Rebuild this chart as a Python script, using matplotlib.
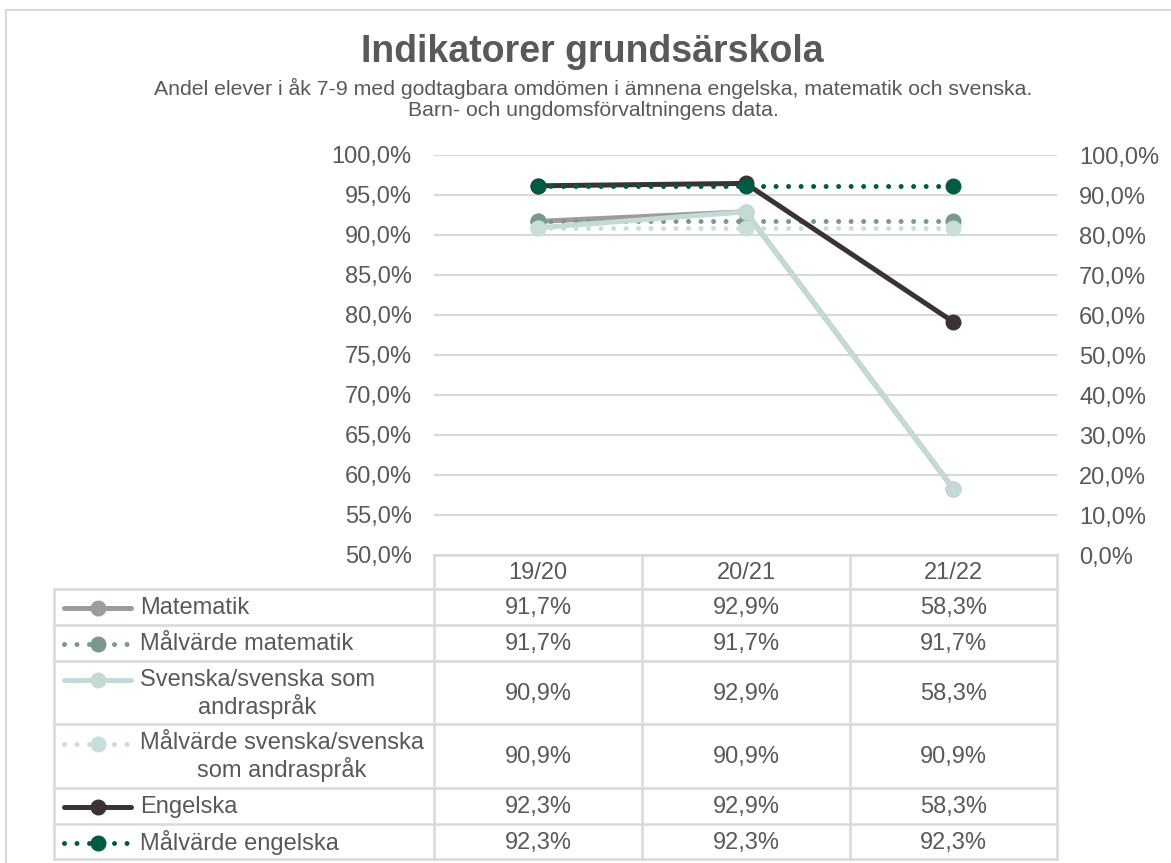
import numpy as np
import matplotlib.pyplot as plt

plt.rcParams['font.family'] = ['Liberation Sans', 'DejaVu Sans']

# data
categories = ['19/20', '20/21', '21/22']
matematik = [91.7, 92.9, 58.3]
mal_matematik = [91.7, 91.7, 91.7]
svenska = [90.9, 92.9, 58.3]
mal_svenska = [90.9, 90.9, 90.9]
engelska = [92.3, 92.9, 58.3]
mal_engelska = [92.3, 92.3, 92.3]

labels = ['Matematik', 'Målvärde matematik', 'Svenska/svenska som\nandraspråk',
          'Målvärde svenska/svenska\nsom andraspråk', 'Engelska', 'Målvärde engelska']
values = [matematik, mal_matematik, svenska, mal_svenska, engelska, mal_engelska]
colors = ['#A09B9B', '#7A988C', '#C3DAD7', '#C8DEDA', '#3B3331', '#005B45']
dotted = [False, True, False, True, False, True]
secondary = [False, False, False, False, True, True]

TXT = '#595959'
GRID = '#D9D9D9'
W, H = 1171, 863

fig = plt.figure(figsize=(W / 100, H / 100), dpi=100)


def px_axes(x0, y0, x1, y1):
    return fig.add_axes([x0 / W, 1 - y1 / H, (x1 - x0) / W, (y1 - y0) / H])


def pct(v):
    return f"{v:.1f}%".replace('.', ',')


DOT = (0, (0.001, 2.5))
LW = 3.6
MS = 10.5

ax = px_axes(434, 155, 1057, 555)
ax2 = ax.twinx()
x = np.arange(len(categories))
for vals, col, dot, sec in zip(values, colors, dotted, secondary):
    a = ax2 if sec else ax
    a.plot(x, vals, color=col, lw=LW, ls=DOT if dot else '-',
           dash_capstyle='round', solid_capstyle='round',
           marker='o', ms=MS, mec=col, mfc=col, clip_on=False)

ax.set_xlim(-0.5, len(categories) - 0.5)
ax.set_ylim(50, 100)
ax2.set_ylim(0, 100)
lt = np.arange(50, 101, 5)
rt = np.arange(0, 101, 10)
ax.set_yticks(lt, [pct(v) for v in lt])
ax2.set_yticks(rt, [pct(v) for v in rt])
ax.set_xticks([])
for a in (ax, ax2):
    a.tick_params(axis='y', length=0, labelsize=17, labelcolor=TXT, pad=16)
    for s in a.spines.values():
        s.set_visible(False)
ax.yaxis.grid(True, color=GRID, lw=1.5)
ax.set_axisbelow(True)

# overlay for title, table, border
ov = fig.add_axes([0, 0, 1, 1])
ov.set_xlim(0, W)
ov.set_ylim(H, 0)
ov.axis('off')

ov.plot([6, W], [10, 10], color=GRID, lw=1.5)
ov.plot([6, 6], [10, H], color=GRID, lw=1.5)

ov.text(592, 52, 'Indikatorer grundsärskola', ha='center', va='center',
        fontsize=27, fontweight='bold', color=TXT)
ov.text(593, 99, 'Andel elever i åk 7-9 med godtagbara omdömen i ämnena engelska, '
        'matematik och svenska.\nBarn- och ungdomsförvaltningens data.',
        ha='center', va='center', fontsize=15.3, color=TXT, linespacing=1.15)

# table
col_x = [434, 642, 850, 1057]
row_y = [589, 625, 661, 724, 788, 824, 859]
tx0 = 54
lw_t = 1.8
# header
ov.plot([col_x[0], col_x[-1]], [555, 555], color=GRID, lw=lw_t)
for cx in col_x:
    ov.plot([cx, cx], [555, row_y[-1]], color=GRID, lw=lw_t)
for ry in row_y:
    ov.plot([tx0, col_x[-1]], [ry, ry], color=GRID, lw=lw_t)
ov.plot([tx0, tx0], [row_y[0], row_y[-1]], color=GRID, lw=lw_t)
for i, c in enumerate(categories):
    ov.text((col_x[i] + col_x[i + 1]) / 2, 573, c, ha='center', va='center',
            fontsize=17, color=TXT)

LH = 27
for r, (lab, vals, col, dot) in enumerate(zip(labels, values, colors, dotted)):
    cy = (row_y[r] + row_y[r + 1]) / 2 + 1
    nl = lab.count('\n') + 1
    ky = cy - (nl - 1) * LH / 2
    ov.plot([64, 131], [ky, ky], color=col, lw=LW, ls=DOT if dot else '-',
            dash_capstyle='round', solid_capstyle='round')
    ov.plot([98], [ky], marker='o', ms=MS, color=col)
    ov.text(140, cy, lab, ha='left', va='center', multialignment='center',
            fontsize=17, color=TXT, linespacing=1.15)
    for i, v in enumerate(vals):
        ov.text((col_x[i] + col_x[i + 1]) / 2, cy, pct(v), ha='center',
                va='center', fontsize=17, color=TXT)

fig.savefig('out.png', dpi=100)
